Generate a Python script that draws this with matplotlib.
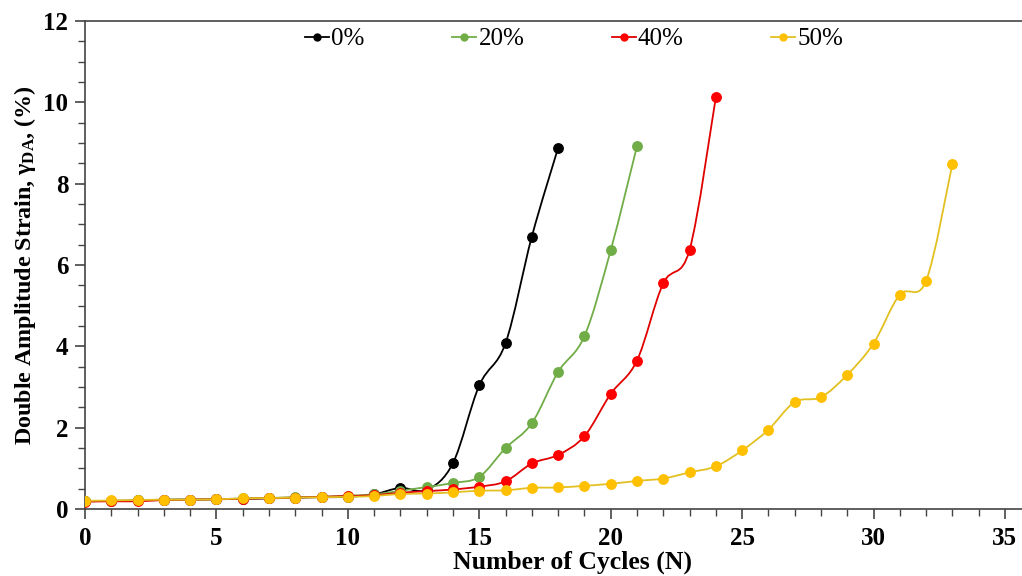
import numpy as np
import matplotlib
matplotlib.use("Agg")
import matplotlib.pyplot as plt
from matplotlib.ticker import MultipleLocator
from matplotlib.path import Path
from matplotlib.patches import PathPatch
from matplotlib.lines import Line2D

plt.rcParams['font.family'] = ['Liberation Serif', 'DejaVu Serif']
plt.rcParams['mathtext.fontset'] = 'custom'
plt.rcParams['mathtext.rm'] = 'Liberation Serif:bold'
plt.rcParams['mathtext.it'] = 'Liberation Serif:bold'
plt.rcParams['mathtext.bf'] = 'Liberation Serif:bold'

labels = ["0%", "20%", "40%", "50%"]
colors = ["#000000", "#70AD47", "#FF0000", "#FFC000"]
line_colors = ["#000000", "#70AD47", "#E00000", "#E3C021"]

cycles_0 = list(range(0, 19))
strain_0 = [0.19, 0.20, 0.21, 0.23, 0.23, 0.24, 0.25, 0.26, 0.28, 0.29, 0.30, 0.36,
            0.52, 0.47, 1.13, 3.04, 4.08, 6.70, 8.88]
cycles_20 = list(range(0, 22))
strain_20 = [0.19, 0.20, 0.21, 0.23, 0.23, 0.24, 0.26, 0.27, 0.29, 0.30, 0.33, 0.36,
             0.45, 0.54, 0.64, 0.79, 1.50, 2.11, 3.37, 4.25, 6.36, 8.92]
cycles_40 = list(range(0, 25))
strain_40 = [0.18, 0.19, 0.19, 0.22, 0.23, 0.24, 0.25, 0.27, 0.28, 0.30, 0.32, 0.34,
             0.40, 0.44, 0.48, 0.55, 0.68, 1.12, 1.33, 1.79, 2.83, 3.65, 5.55, 6.37, 10.12]
cycles_50 = list(range(0, 34))
strain_50 = [0.20, 0.21, 0.22, 0.23, 0.23, 0.24, 0.26, 0.27, 0.28, 0.29, 0.30, 0.32,
             0.37, 0.38, 0.41, 0.45, 0.46, 0.52, 0.53, 0.57, 0.62, 0.69, 0.75, 0.90,
             1.05, 1.44, 1.95, 2.63, 2.75, 3.30, 4.07, 5.27, 5.61, 8.48]

series = [(cycles_0, strain_0), (cycles_20, strain_20), (cycles_40, strain_40), (cycles_50, strain_50)]


def smooth_path(x, y):
    """Excel-style smoothed line: cubic Bezier segments through the data points."""
    p = np.column_stack([x, y]).astype(float)
    n = len(p)
    verts = [p[0]]
    codes = [Path.MOVETO]
    for i in range(n - 1):
        p0 = p[i - 1] if i > 0 else p[i]
        p1 = p[i]
        p2 = p[i + 1]
        p3 = p[i + 2] if i + 2 < n else p[i + 1]
        c1 = p1 + (p2 - p0) / 6.0
        c2 = p2 - (p3 - p1) / 6.0
        verts += [c1, c2, p2]
        codes += [Path.CURVE4] * 3
    return Path(verts, codes)


fig = plt.figure(figsize=(10.22, 5.76), dpi=100)
ax = fig.add_axes([0.0832, 0.1163, 0.9168, 0.8472])

handles = []
for (x, y), lab, c, lc in zip(series, labels, colors, line_colors):
    ax.add_patch(PathPatch(smooth_path(x, y), facecolor='none', edgecolor=lc, lw=1.3, zorder=2))
    ax.plot(x, y, linestyle='none', marker='o', markersize=6.8,
            markerfacecolor=c, markeredgecolor=c, zorder=3)
    handles.append(Line2D([], [], color=lc, lw=1.3, marker='o', markersize=5,
                          markerfacecolor=c, markeredgecolor=c, label=lab))

ax.set_xlim(0, 35.65)
ax.set_ylim(0, 12)
ax.xaxis.set_major_locator(MultipleLocator(5))
ax.xaxis.set_minor_locator(MultipleLocator(1))
ax.yaxis.set_major_locator(MultipleLocator(2))
ax.yaxis.set_minor_locator(MultipleLocator(0.5))
ax.tick_params(which='major', direction='out', length=7, width=1.2, color='#444444',
               labelsize=18)
ax.tick_params(axis='x', which='major', pad=6)
ax.tick_params(axis='y', which='major', pad=5)
ax.tick_params(which='minor', direction='out', length=5, width=1.0, color='#444444')
for lbl in ax.get_xticklabels() + ax.get_yticklabels():
    lbl.set_fontweight('bold')

ax.spines['right'].set_visible(False)
for s in ['left', 'bottom', 'top']:
    ax.spines[s].set_color('#444444')
    ax.spines[s].set_linewidth(1.2)

ax.set_xlabel("Number of Cycles (N)", fontsize=18.5, fontweight='bold')
ax.xaxis.set_label_coords(0.52, -0.085)
ax.set_ylabel(r"Double Amplitude Strain, $\gamma_{\mathrm{DA}}$, (%)", fontsize=17.3,
              fontweight='bold', labelpad=4)

leg = fig.legend(handles=handles, loc='center left', bbox_to_anchor=(305 / 1022, 1 - 39 / 576),
                 bbox_transform=fig.transFigure, ncol=4, frameon=False, borderpad=0,
                 borderaxespad=0, fontsize=18, handlelength=0.95, handletextpad=0.1,
                 columnspacing=3.5)

fig.savefig("out.png", dpi=100)
